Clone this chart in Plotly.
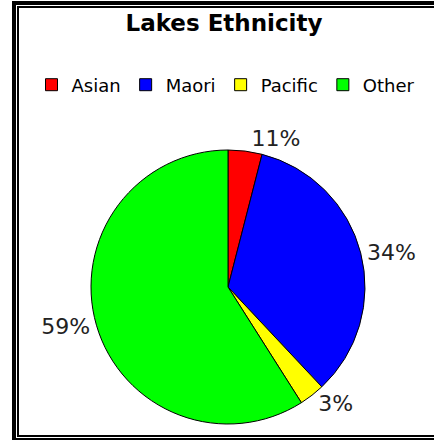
import plotly.graph_objects as go

W, H = 434, 440

categories = ["Asian", "Maori", "Pacific", "Other"]
slice_values = [4, 34, 3, 59]
slice_labels = ["11%", "34%", "3%", "59%"]
colors = ["#FF0000", "#0000FF", "#FFFF00", "#00FF00"]

def px_x(x):
    return x / W

def px_y(y):
    return 1 - y / H

fig = go.Figure()
fig.add_trace(go.Pie(
    labels=categories,
    values=slice_values,
    text=slice_labels,
    textinfo="text",
    textposition="outside",
    sort=False,
    direction="clockwise",
    rotation=0,
    marker=dict(colors=colors, line=dict(color="black", width=1)),
    outsidetextfont=dict(family="DejaVu Sans", size=22, color="#222222"),
    domain=dict(x=[px_x(91), px_x(365)], y=[px_y(424), px_y(150)]),
    hoverinfo="label+percent",
))

# double-line frame (thick outer, thin inner)
frame = [
    (12, 1, 16, 440),   # outer left
    (12, 1, 434, 5),    # outer top
    (12, 438, 434, 440),  # outer bottom
    (17, 6, 19, 437),   # inner left
    (17, 6, 434, 8),    # inner top
    (17, 435, 434, 437),  # inner bottom
]
for x0, y0, x1, y1 in frame:
    fig.add_shape(type="rect", xref="paper", yref="paper",
                  x0=px_x(x0), x1=px_x(x1), y0=px_y(y1), y1=px_y(y0),
                  fillcolor="black", line=dict(width=0), layer="above")

fig.update_layout(
    width=W, height=H,
    margin=dict(l=0, r=0, t=0, b=0),
    paper_bgcolor="white",
    plot_bgcolor="white",
    title=dict(text="Lakes Ethnicity", x=px_x(224), xanchor="center",
               y=px_y(23), yanchor="middle",
               font=dict(family="DejaVu Sans", size=23, color="black", weight="bold")),
    showlegend=True,
    legend=dict(orientation="h", x=px_x(226), xanchor="center",
                y=px_y(85), yanchor="middle",
                font=dict(family="DejaVu Sans", size=18, color="black"),
                itemwidth=30, tracegroupgap=0, traceorder="normal",
                bgcolor="rgba(0,0,0,0)"),
)

fig.write_html("out.html")
